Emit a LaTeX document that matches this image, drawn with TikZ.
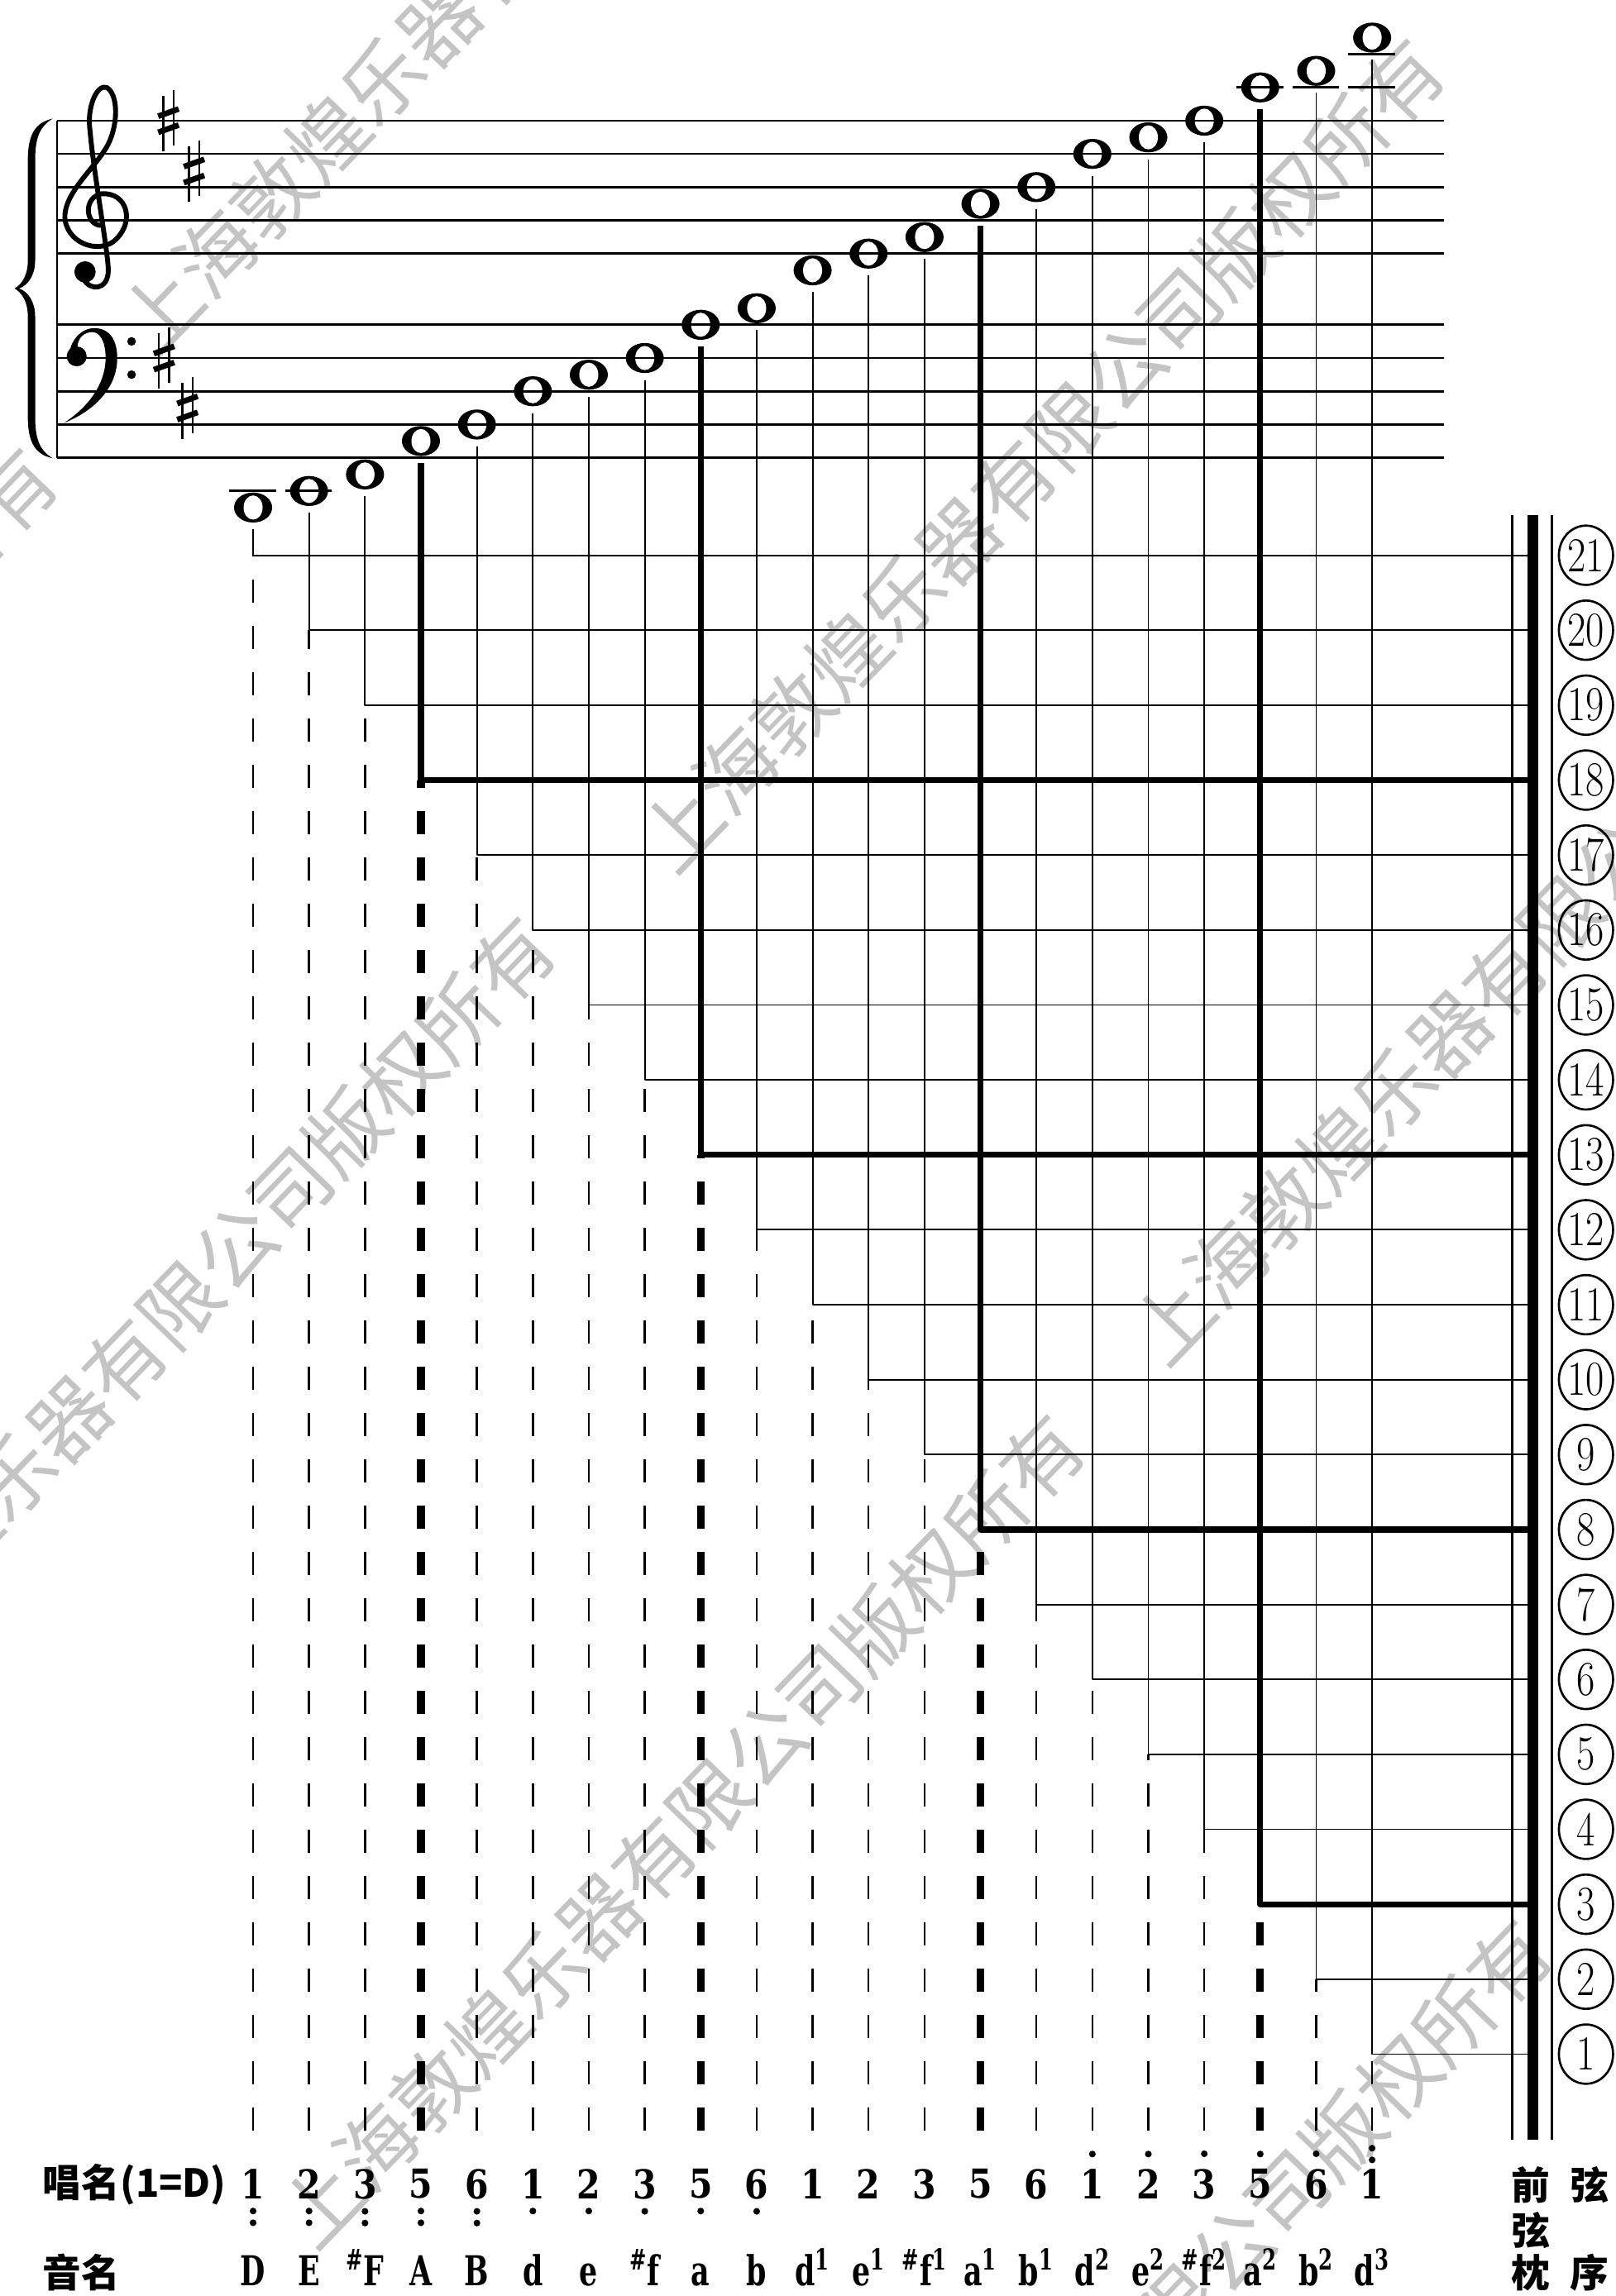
\documentclass[tikz,border=0pt]{standalone}
\usepackage{fontspec}
\usepackage{graphicx}
\usetikzlibrary{shapes.geometric}
\newfontfamily\cjk{Noto Sans CJK SC}
\newfontfamily\slab{DejaVu Serif}
\definecolor{wmgray}{RGB}{196,196,196}
\tikzset{
  staffline/.style={line width=0.85pt},
  thinline/.style={line width=0.6pt},
  thickline/.style={line width=2.3pt},
  thindash/.style={line width=0.8pt,dash pattern=on 9pt off 9pt},
  thickdash/.style={line width=3pt,dash pattern=on 9pt off 9pt},
  wholenote/.style={ellipse,fill=black,minimum width=0.52cm,minimum height=0.41cm,inner sep=0pt,
    path picture={\fill[white] (path picture bounding box.center) ellipse (0.13cm and 0.165cm);}},
  ledger/.style={line width=0.9pt},
  stringno/.style={ellipse,draw,line width=0.85pt,minimum width=0.74cm,minimum height=0.81cm,
    inner sep=0pt,font=\fontsize{19}{20}\selectfont},
  jianpu/.style={font=\slab\bfseries\fontsize{15.5}{16}\selectfont,inner sep=0pt},
  yinming/.style={font=\slab\bfseries\fontsize{16}{17}\selectfont,inner sep=0pt,anchor=base},
  cjklabel/.style={font=\cjk\bfseries\fontsize{15}{16}\selectfont,inner sep=0pt},
  watermark/.style={font=\cjk\fontsize{31}{32}\selectfont,text=wmgray,rotate=46,anchor=west,inner sep=0pt}
}

\begin{document}
\begin{tikzpicture}[x=0.02cm,y=-0.02cm,line join=round]
  \useasboundingbox (0,0) rectangle (1103,1568);

  % watermark
  \foreach \wx/\wy [count=\w] in {-501/865,91/232,446/585,-161/1185,781/922,200/1525,519/1870}
    \node[watermark] (wm\w) at (\wx,\wy) {上海敦煌乐器有限公司版权所有};

  % brace
  \fill (36,81) .. controls (22,84) and (19,95) .. (19,110) -- (19,178)
    .. controls (19,188) and (15,194) .. (10,197) .. controls (15,200) and (19,206) .. (19,216)
    -- (19,284) .. controls (19,299) and (22,310) .. (36,313)
    .. controls (26,307) and (24,298) .. (24,284) -- (24,216)
    .. controls (24,206) and (19,199) .. (13,197) .. controls (19,195) and (24,188) .. (24,178)
    -- (24,110) .. controls (24,96) and (26,87) .. (36,81) -- cycle;

  % treble clef
  \begin{scope}[shift={(66,150.5)},xscale=22.7,yscale=-22.7]
    \draw[line width=1.9pt,line cap=round] (0.1,-0.15) .. controls (-0.35,-0.1) and (-0.4,0.7) .. (0.15,0.8)
      .. controls (0.9,0.85) and (1.15,0.0) .. (0.6,-0.55)
      .. controls (0.2,-1.0) and (-0.8,-0.8) .. (-0.95,0.0)
      .. controls (-1.05,0.8) and (0.0,1.6) .. (0.35,2.3)
      .. controls (0.65,2.9) and (0.65,3.8) .. (0.3,4.0)
      .. controls (0.0,4.1) and (-0.3,3.4) .. (-0.2,2.7)
      .. controls (-0.1,1.5) and (0.35,-1.0) .. (0.35,-1.5)
      .. controls (0.35,-2.1) and (-0.2,-2.15) .. (-0.4,-1.75);
    \fill (-0.35,-1.55) circle (0.32);
  \end{scope}

  % bass clef
  \begin{scope}[shift={(46,244.5)},xscale=22.7,yscale=-22.7]
    \fill (0.05,0.0) .. controls (0.05,0.55) and (0.45,0.9) .. (0.8,0.9)
      .. controls (1.3,0.9) and (1.5,0.5) .. (1.5,0.0)
      .. controls (1.5,-0.9) and (0.8,-1.6) .. (-0.1,-1.95)
      .. controls (0.6,-1.5) and (1.15,-0.8) .. (1.15,0.0)
      .. controls (1.15,0.55) and (0.95,0.78) .. (0.75,0.78)
      .. controls (0.5,0.78) and (0.3,0.6) .. (0.3,0.3) -- cycle;
    \fill (0.28,0.05) circle (0.3);
    \fill (1.93,0.5) circle (0.13);
    \fill (1.93,-0.5) circle (0.13);
  \end{scope}

  % key signature
  \foreach \kx/\ky in {115/82.4,132.5/116.8,112/244.5,128/278.6} {
    \draw[line width=0.7pt] (\kx-3.5,\ky-17) -- (\kx-3.5,\ky+21);
    \draw[line width=0.7pt] (\kx+3.5,\ky-21) -- (\kx+3.5,\ky+17);
    \draw[line width=2.2pt] (\kx-7,\ky-3) -- (\kx+7,\ky-8);
    \draw[line width=2.2pt] (\kx-7,\ky+8) -- (\kx+7,\ky+3);
  }

  % notes
  \foreach \i/\ny in {0/346.6,1/335.3,2/324.0,3/301.2,4/289.9,5/267.2,6/255.9,7/244.5,8/221.8,
      9/210.5,10/184.6,11/173.2,12/161.9,13/139.2,14/127.8,15/105.1,16/93.8,17/82.4,18/59.7,19/48.4,20/25.7}
    \node[wholenote] (n\i) at ({172.8+38.2*\i},\ny) {};

  % staff
  \foreach \sy in {82.4,105.1,127.8,150.5,173.2,221.8,244.5,267.2,289.9,312.6}
    \draw[staffline] (39,\sy) -- (986,\sy);
  \draw[staffline] (39,82.4) -- (39,312.6);

  % ledger lines
  \draw[ledger] (n0.west |- 0,335.3) ++(-3,0) -- ++(32,0);
  \draw[ledger] (n1.west |- 0,335.3) ++(-3,0) -- ++(32,0);
  \draw[ledger] (n18.west |- 0,59.7) ++(-3,0) -- ++(32,0);
  \draw[ledger] (n19.west |- 0,59.7) ++(-3,0) -- ++(32,0);
  \draw[ledger] (n20.west |- 0,59.7) ++(-3,0) -- ++(32,0);
  \draw[ledger] (n20.west |- 0,37.0) ++(-3,0) -- ++(32,0);

  % strings
  \draw[line width=0.85pt] (1032.5,351.7) -- (1032.5,1461);
  \draw[line width=4.25pt] (1046.5,351.7) -- (1046.5,1461);
  \draw[line width=0.85pt] (1059.4,351.7) -- (1059.4,1461);

  % note lines to the strings
  \foreach \i in {0,...,20} {
    \pgfmathtruncatemacro\k{21-\i}
    \pgfmathsetmacro\sy{379.2+51.18*\i}
    \pgfmathtruncatemacro\thk{mod(\i,5)==3}
    \coordinate (s\k) at (1046.5,\sy);
    \coordinate (b\i) at ({172.8+38.2*\i},1455);
    \node[stringno] (c\k) at (1082.8,\sy) {\scalebox{0.82}[1]{\k}};
    \ifnum\thk=1
      \draw[thickline] ([yshift=-2.5pt]n\i.south) |- (s\k);
      \draw[thickdash] (b\i) -- (n\i |- s\k);
    \else
      \draw[thinline] ([yshift=-2.5pt]n\i.south) |- (s\k);
      \draw[thindash] (b\i) -- (n\i |- s\k);
    \fi
  }

  % jianpu
  \foreach \d [count=\i from 0] in {1,2,3,5,6,1,2,3,5,6,1,2,3,5,6,1,2,3,5,6,1}
    \node[jianpu] (j\i) at ({172.8+38.2*\i},1491.5) {\scalebox{0.85}[1]{\d}};
  \foreach \i in {0,...,4} {
    \fill (j\i.south) ++(0,8) circle (2.3);
    \fill (j\i.south) ++(0,16) circle (2.3);
  }
  \foreach \i in {5,...,9}
    \fill (j\i.south) ++(0,8) circle (2.3);
  \foreach \i in {15,...,19}
    \fill (j\i.north) ++(0,-10) circle (2.3);
  \fill (j20.north) ++(0,-6) circle (2.3);
  \fill (j20.north) ++(0,-14) circle (2.3);

  % letter names
  \foreach \t [count=\i from 0] in {D,E,{\textsuperscript{\#}F},A,B,d,e,{\textsuperscript{\#}f},a,b,
      {d\textsuperscript{1}},{e\textsuperscript{1}},{\textsuperscript{\#}f\textsuperscript{1}},{a\textsuperscript{1}},{b\textsuperscript{1}},
      {d\textsuperscript{2}},{e\textsuperscript{2}},{\textsuperscript{\#}f\textsuperscript{2}},{a\textsuperscript{2}},{b\textsuperscript{2}},
      {d\textsuperscript{3}}}
    \node[yinming] (l\i) at ({172.8+38.2*\i},1561) {\scalebox{0.7}[1]{\t}};

  % row titles
  \node[cjklabel,anchor=west] (chang) at (29,1492) {唱名(1=D)};
  \node[cjklabel,anchor=west] (yin) at (29,1552) {音名};
  \node[cjklabel] (qian) at (1045,1492) {前};
  \node[cjklabel] (xian) at (1045,1523) {弦};
  \node[cjklabel] (zhen) at (1045,1552) {枕};
  \node[cjklabel] (xian2) at (1085,1492) {弦};
  \node[cjklabel] (xu) at (1085,1552) {序};
\end{tikzpicture}
\end{document}
